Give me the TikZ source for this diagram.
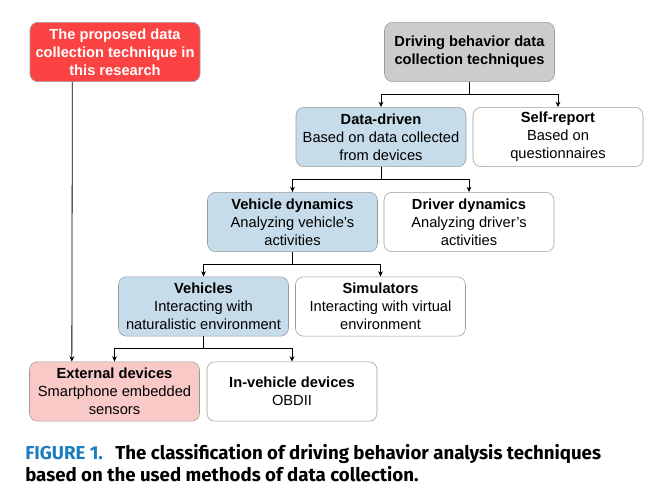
\documentclass[tikz,border=0pt]{standalone}
\usepackage{fontspec}
\setmainfont{Liberation Sans}
\newfontfamily\capfont{Fira Sans}
\usetikzlibrary{arrows.meta}
\definecolor{boxline}{HTML}{9A9A9A}
\definecolor{propred}{HTML}{FC4343}
\definecolor{topgray}{HTML}{CCCCCC}
\definecolor{pathblue}{HTML}{C6DCEA}
\definecolor{extpink}{HTML}{F9C9C8}
\definecolor{capblue}{HTML}{1B7DC0}
\tikzset{
  box/.style={draw=boxline, rounded corners=6pt, minimum width=127.5pt,
    minimum height=44.5pt, inner sep=0pt, align=center,
    font=\fontsize{11}{13.5}\selectfont},
  link/.style={-{Stealth[length=4pt,width=3.6pt]}, line width=0.6pt},
}
\begin{document}
\begin{tikzpicture}[x=0.75pt, y=-0.75pt]
\useasboundingbox (0,0) rectangle (659,497);
% boxes, placed by centre in pixel units
\node[box, fill=propred, text=white, font=\fontsize{11}{13.5}\selectfont\bfseries]
  (proposed) at (115,52) {The proposed data\\collection technique in\\this research};
\node[box, fill=topgray] (techniques) at (469.5,52)
  {\textbf{Driving behavior data}\\\textbf{collection techniques}};
\node[box, fill=pathblue] (datadriven) at (381,137)
  {\textbf{Data-driven}\\Based on data collected\\from devices};
\node[box] (selfreport) at (558,137)
  {\textbf{Self-report}\\Based on\\questionnaires};
\node[box, fill=pathblue] (vehdyn) at (292.5,222)
  {\textbf{Vehicle dynamics}\\Analyzing vehicle's\\activities};
\node[box] (drvdyn) at (469,222)
  {\textbf{Driver dynamics}\\Analyzing driver's\\activities};
\node[box, fill=pathblue] (vehicles) at (203.5,306.5)
  {\textbf{Vehicles}\\Interacting with\\naturalistic environment};
\node[box] (simulators) at (380.5,306.5)
  {\textbf{Simulators}\\Interacting with virtual\\environment};
\node[box, fill=extpink] (external) at (114.5,391.5)
  {\textbf{External devices}\\Smartphone embedded\\sensors};
\node[box] (invehicle) at (292,391.5)
  {\textbf{In-vehicle devices}\\OBDII};
% tree connectors
\foreach \p/\a/\b in {techniques/datadriven/selfreport, datadriven/vehdyn/drvdyn,
    vehdyn/vehicles/simulators, vehicles/external/invehicle}
  {\draw[link] (\p.south) -- ++(0,12) -| (\a.north);
   \draw[link] (\p.south) -- ++(0,12) -| (\b.north);};
\draw[link] ([xshift=-32pt]proposed.south) -- ([xshift=-32pt]external.north);
% caption
\node[anchor=north west, align=left, inner sep=0pt,
  font=\capfont\bfseries\fontsize{14}{16.5}\selectfont] (caption) at (25,444)
  {{\color{capblue}FIGURE 1.}\hspace{0.35em} The classification of driving behavior analysis techniques\\
   based on the used methods of data collection.};
\end{tikzpicture}
\end{document}
